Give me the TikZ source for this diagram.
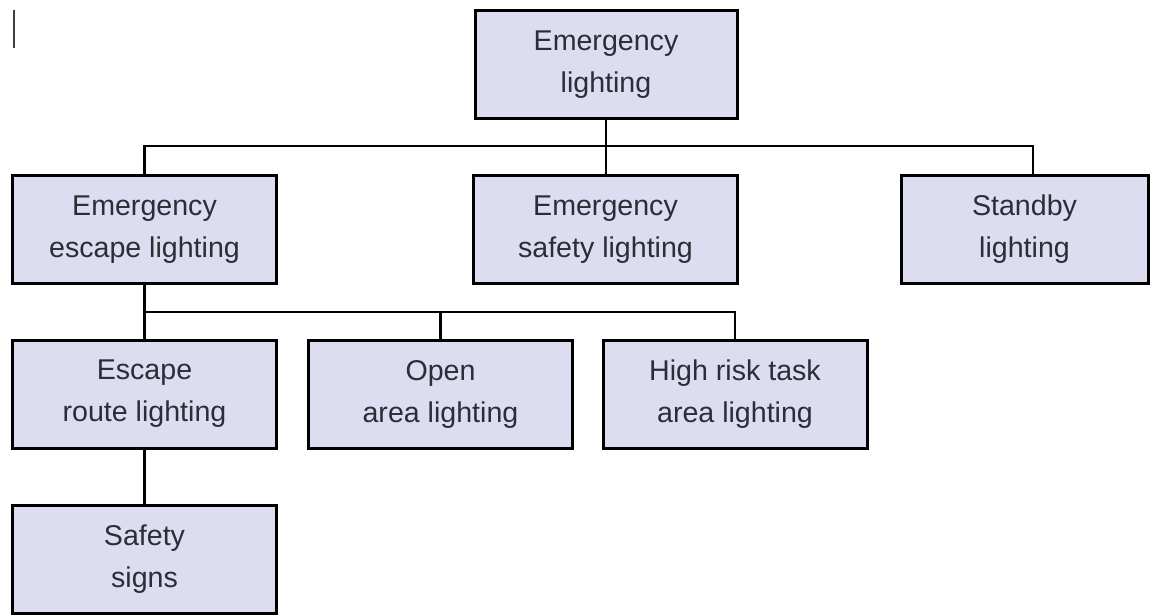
\documentclass[tikz,border=0pt]{standalone}
\usepackage{fontspec}
\setmainfont{Liberation Sans}
\usetikzlibrary{calc}
\definecolor{boxfill}{RGB}{221,221,241}
\definecolor{boxtext}{RGB}{45,45,55}
\tikzset{
  orgbox/.style={draw=black, line width=1.5pt, fill=boxfill, text=boxtext,
    align=center, inner sep=0pt, minimum width=132pt, minimum height=54pt,
    font=\fontsize{14.3}{21}\selectfont},
  conn/.style={draw=black, line width=1.2pt}
}
\begin{document}
\begin{tikzpicture}[x=0.5pt,y=-0.5pt]
\useasboundingbox (0,0) rectangle (1155,615);
\draw[line width=1pt, black!75] (14,10) -- (14,48);

\node[orgbox, minimum width=131pt] (top) at (606,64.5) {Emergency\\lighting};

\node[orgbox] (esc) at (144.5,229.5) {Emergency\\escape lighting};
\node[orgbox] (saf) at (605.5,229.5) {Emergency\\safety lighting};
\node[orgbox, minimum width=123.5pt] (sb) at (1024.5,229.5) {Standby\\lighting};

\node[orgbox] (route) at (144.5,394) {Escape\\route lighting};
\node[orgbox] (open) at (440.5,394) {Open\\area lighting};
\node[orgbox] (high) at (735,394) {High risk task\\area lighting};

\node[orgbox] (signs) at (144.5,559) {Safety\\signs};

\coordinate (b1) at (0,146);
\coordinate (b2) at (0,312);
\coordinate (sbx) at ($(sb.north west)!0.534!(sb.north east)$);

\draw[conn] (top.south) -- (top.south |- saf.north);
\draw[conn] (esc.north) -- (esc.north |- b1) -- (sbx |- b1) -- (sbx);

\draw[conn] (esc.south) -- (route.north);
\draw[conn] (esc.south |- b2) -- (high.north |- b2) -- (high.north);
\draw[conn] (open.north |- b2) -- (open.north);

\draw[conn] (route.south) -- (signs.north);
\end{tikzpicture}
\end{document}
